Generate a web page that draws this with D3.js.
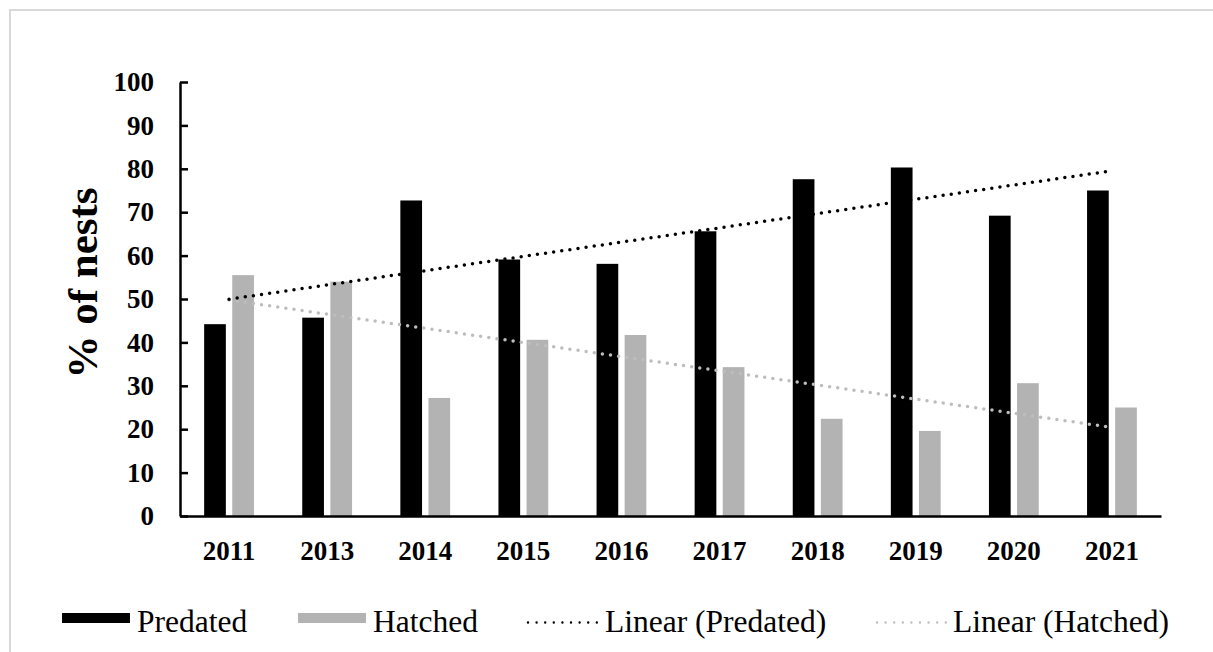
<!DOCTYPE html>
<html>
<head>
<meta charset="utf-8">
<script src="https://cdn.jsdelivr.net/npm/d3@7"></script>
<style>
  html, body { margin: 0; padding: 0; background: #fff; }
  svg { display: block; }
  text { font-family: "Liberation Serif", "Times New Roman", serif; }
</style>
</head>
<body>
<svg id="chart" width="1213" height="652"></svg>
<script>
// ---- Data ----
const years = ["2011", "2013", "2014", "2015", "2016", "2017", "2018", "2019", "2020", "2021"];
const predated = [44.2, 45.7, 72.7, 59.1, 58.1, 65.6, 77.6, 80.3, 69.2, 75.0];
const hatched  = [55.5, 54.0, 27.2, 40.6, 41.7, 34.3, 22.4, 19.6, 30.6, 25.0];
const yTicks = [0, 10, 20, 30, 40, 50, 60, 70, 80, 90, 100];
const seriesNames = ["Predated", "Hatched"];
const legendLabels = ["Predated", "Hatched", "Linear (Predated)", "Linear (Hatched)"];
const yTitle = "% of nests";

(function () {
const colors = { Predated: "#000000", Hatched: "#b3b3b3" };
const trendColors = { Predated: "#000000", Hatched: "#bdbdbd" };

const svg = d3.select("#chart");

// outer frame
svg.append("rect")
  .attr("x", 10).attr("y", 10)
  .attr("width", 1260).attr("height", 700)
  .attr("fill", "none").attr("stroke", "#d9d9d9").attr("stroke-width", 2);

const mLeft = 180, mRight = 1161, mTop = 82, mBottom = 516;

const x0 = d3.scaleBand().domain(years).range([mLeft, mRight]).padding(0);
const x1 = d3.scaleBand().domain(seriesNames).range([-24.9, 24.9]).paddingInner(0.228).paddingOuter(0);
const y = d3.scaleLinear().domain([0, 100]).range([mBottom, mTop]);

// bars
const data = years.map((yr, i) => ({ year: yr, Predated: predated[i], Hatched: hatched[i] }));
const groups = svg.append("g").selectAll("g").data(data).join("g")
  .attr("transform", d => `translate(${x0(d.year) + x0.bandwidth() / 2},0)`);
groups.selectAll("rect")
  .data(d => seriesNames.map(k => ({ key: k, value: d[k] })))
  .join("rect")
  .attr("x", d => x1(d.key))
  .attr("width", x1.bandwidth())
  .attr("y", d => y(d.value))
  .attr("height", d => y(0) - y(d.value))
  .attr("fill", d => colors[d.key]);

// linear trendlines (least squares over category index)
function linreg(vals) {
  const xs = vals.map((_, i) => i + 1);
  const mx = d3.mean(xs), my = d3.mean(vals);
  let sxy = 0, sxx = 0;
  xs.forEach((xv, i) => { sxy += (xv - mx) * (vals[i] - my); sxx += (xv - mx) * (xv - mx); });
  const b = sxy / sxx, a = my - b * mx;
  return xs.map(xv => a + b * xv);
}
const trends = { Predated: linreg(predated), Hatched: linreg(hatched) };
const cx = i => x0(years[i]) + x0.bandwidth() / 2;
["Hatched", "Predated"].forEach(k => {
  const t = trends[k];
  const pts = [[cx(0), y(t[0])], [cx(years.length - 1), y(t[t.length - 1])]];
  svg.append("path")
    .datum(pts)
    .attr("d", d3.line())
    .attr("fill", "none")
    .attr("stroke", trendColors[k])
    .attr("stroke-width", 3.5)
    .attr("stroke-linecap", "round")
    .attr("stroke-dasharray", "0 8.2");
});

// y axis
const yAxis = d3.axisLeft(y).tickValues(yTicks).tickSizeInner(-8).tickSizeOuter(0).tickPadding(26);
const gy = svg.append("g").attr("transform", `translate(${mLeft},0)`).call(yAxis);
gy.select(".domain").attr("stroke", "#000").attr("stroke-width", 2.5);
gy.selectAll(".tick line").attr("stroke", "#000").attr("stroke-width", 2.5);
gy.selectAll(".tick text")
  .attr("font-family", "'Liberation Serif', 'Times New Roman', serif")
  .attr("font-size", 27).attr("font-weight", "bold").attr("fill", "#000");

// x axis
const xAxis = d3.axisBottom(x0).tickSize(0).tickSizeOuter(0).tickPadding(25);
const gx = svg.append("g").attr("transform", `translate(0,${mBottom})`).call(xAxis);
gx.select(".domain").attr("stroke", "#000").attr("stroke-width", 2.5);
gx.selectAll(".tick text")
  .attr("font-family", "'Liberation Serif', 'Times New Roman', serif")
  .attr("font-size", 27).attr("font-weight", "bold").attr("fill", "#000");

// y title
svg.append("text")
  .attr("transform", "translate(97,283) rotate(-90)")
  .attr("text-anchor", "middle")
  .attr("font-size", 43).attr("font-weight", "bold")
  .text(yTitle);

// legend
const legend = svg.append("g");
const legendItems = [
  { label: legendLabels[0], type: "rect", key: "Predated", a: 62, b: 130, tx: 137 },
  { label: legendLabels[1], type: "rect", key: "Hatched", a: 298, b: 366, tx: 373 },
  { label: legendLabels[2], type: "line", key: "Predated", a: 528, b: 597, tx: 605 },
  { label: legendLabels[3], type: "line", key: "Hatched", a: 877, b: 946, tx: 953 }
];
legendItems.forEach(it => {
  if (it.type === "rect") {
    legend.append("rect")
      .attr("x", it.a).attr("y", 613).attr("width", it.b - it.a).attr("height", 10)
      .attr("fill", colors[it.key]);
  } else {
    legend.append("line")
      .attr("x1", it.a).attr("x2", it.b).attr("y1", 622.5).attr("y2", 622.5)
      .attr("stroke", trendColors[it.key]).attr("stroke-width", 2.4)
      .attr("stroke-linecap", "round").attr("stroke-dasharray", "0 8.6");
  }
  legend.append("text")
    .attr("x", it.tx).attr("y", 632)
    .attr("font-size", 31.5).attr("fill", "#000")
    .text(it.label);
});
})();
</script>
</body>
</html>
